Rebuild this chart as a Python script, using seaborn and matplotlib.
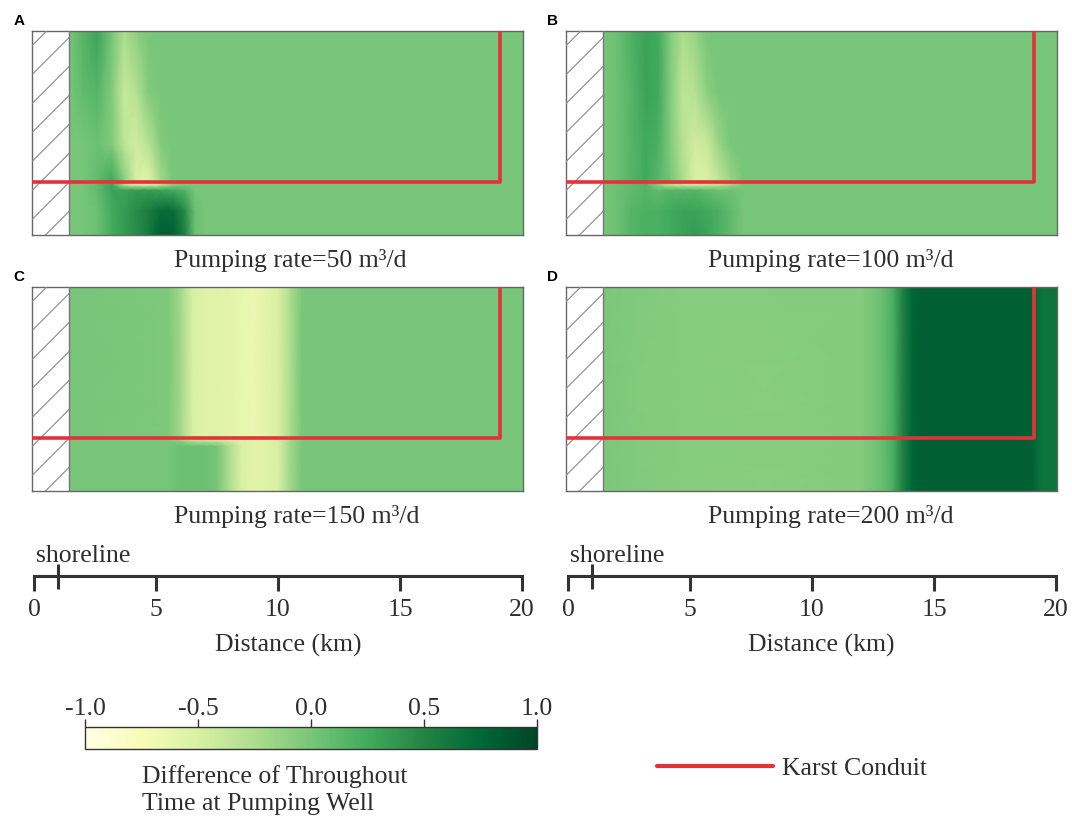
import matplotlib
matplotlib.use('Agg')
import numpy as np
import matplotlib.pyplot as plt
import seaborn as sns
from matplotlib.patches import Rectangle
from matplotlib.lines import Line2D

# ---------------------------------------------------------------
# data (distance in km, depth as 0..1 of panel)
# ---------------------------------------------------------------

# Panel A - pumping rate 50 m3/d
A_X = [1.45, 2.0, 2.6, 3.2, 3.7, 4.2, 4.7, 5.2, 5.7, 6.2, 6.6, 7.0, 20.04]
A_Y = [0.0, 0.12, 0.22, 0.245, 0.275, 0.45, 0.7, 1.0]
A_Z = [
    [0.0, 0.0, 0.05, 0.25, 0.35, 0.45, 0.6, 0.8, 0.8, 0.5, 0.05, 0.0, 0.0],
    [0.0, 0.0, 0.05, 0.25, 0.35, 0.45, 0.55, 0.7, 0.7, 0.45, 0.05, 0.0, 0.0],
    [0.0, 0.0, 0.1, 0.3, 0.3, 0.35, 0.35, 0.3, 0.25, 0.15, 0.0, 0.0, 0.0],
    [0.0, 0.0, 0.1, 0.3, -0.25, -0.45, -0.45, -0.3, -0.05, 0.0, 0.0, 0.0, 0.0],
    [0.0, 0.0, 0.1, 0.25, -0.1, -0.5, -0.55, -0.2, 0.0, 0.0, 0.0, 0.0, 0.0],
    [0.0, 0.0, 0.05, -0.05, -0.35, -0.45, -0.3, -0.05, 0.0, 0.0, 0.0, 0.0, 0.0],
    [0.0, 0.1, 0.15, -0.05, -0.4, -0.3, -0.05, 0.0, 0.0, 0.0, 0.0, 0.0, 0.0],
    [0.0, 0.15, 0.3, 0.0, -0.25, -0.1, 0.0, 0.0, 0.0, 0.0, 0.0, 0.0, 0.0],
]

# Panel B - pumping rate 100 m3/d
B_X = [1.45, 2.0, 2.6, 3.2, 3.7, 4.2, 4.7, 5.2, 5.7, 6.2, 6.7, 7.2, 7.7, 20.04]
B_Y = [0.0, 0.12, 0.22, 0.245, 0.275, 0.45, 0.7, 1.0]
B_Z = [
    [0.0, 0.05, 0.15, 0.2, 0.2, 0.25, 0.3, 0.35, 0.3, 0.2, 0.1, 0.0, 0.0, 0.0],
    [0.0, 0.05, 0.15, 0.2, 0.2, 0.25, 0.3, 0.3, 0.25, 0.2, 0.1, 0.0, 0.0, 0.0],
    [0.0, 0.05, 0.1, 0.15, 0.1, 0.15, 0.15, 0.15, 0.1, 0.05, 0.05, 0.0, 0.0, 0.0],
    [0.0, 0.05, 0.1, 0.15, -0.1, -0.3, -0.35, -0.4, -0.35, -0.3, -0.15, 0.0, 0.0, 0.0],
    [0.0, 0.05, 0.15, 0.25, 0.15, 0.0, -0.25, -0.5, -0.5, -0.35, -0.15, 0.0, 0.0, 0.0],
    [0.0, 0.05, 0.15, 0.25, 0.2, -0.05, -0.3, -0.45, -0.4, -0.15, 0.0, 0.0, 0.0, 0.0],
    [0.0, 0.05, 0.15, 0.3, 0.25, -0.05, -0.35, -0.3, -0.1, 0.0, 0.0, 0.0, 0.0, 0.0],
    [0.0, 0.05, 0.2, 0.3, 0.25, -0.05, -0.25, -0.15, 0.0, 0.0, 0.0, 0.0, 0.0, 0.0],
]

# Panel C - pumping rate 150 m3/d
C_X = [1.45, 5.5, 6.0, 6.5, 7.0, 7.5, 8.0, 8.5, 9.0, 9.5, 10.0, 10.5, 11.0, 20.04]
C_Y = [0.0, 0.22, 0.245, 0.275, 1.0]
C_Z = [
    [0.0, 0.0, 0.05, 0.05, 0.05, 0.0, -0.25, -0.5, -0.58, -0.55, -0.5, -0.2, 0.0, 0.0],
    [0.0, 0.0, 0.05, 0.05, 0.05, 0.0, -0.25, -0.5, -0.58, -0.55, -0.5, -0.2, 0.0, 0.0],
    [0.0, 0.0, -0.08, -0.25, -0.3, -0.35, -0.45, -0.55, -0.58, -0.55, -0.5, -0.2, 0.0, 0.0],
    [0.0, -0.03, -0.2, -0.5, -0.55, -0.55, -0.58, -0.62, -0.65, -0.58, -0.5, -0.25, 0.0, 0.0],
    [0.0, -0.03, -0.2, -0.5, -0.55, -0.55, -0.58, -0.62, -0.65, -0.58, -0.5, -0.25, 0.0, 0.0],
]

# Panel D - pumping rate 200 m3/d
D_X = [1.45, 3.0, 4.5, 8.0, 12.0, 12.8, 13.3, 13.7, 14.1, 14.5, 19.0, 19.4, 20.04]
D_Y = [0.0, 0.5, 1.0]
D_Z = [
    [-0.02, -0.04, -0.07, -0.08, -0.06, 0.05, 0.2, 0.5, 0.75, 0.8, 0.8, 0.65, 0.65],
    [-0.02, -0.05, -0.07, -0.08, -0.06, 0.05, 0.2, 0.5, 0.75, 0.8, 0.8, 0.65, 0.65],
    [-0.02, -0.04, -0.07, -0.07, -0.06, 0.05, 0.2, 0.5, 0.75, 0.8, 0.8, 0.65, 0.65],
]

RATES = ['50', '100', '150', '200']
LETTERS = ['A', 'B', 'C', 'D']

# karst conduit path
CONDUIT_X = [-0.08, 19.1, 19.1]
CONDUIT_Y = [0.26, 0.26, 1.0]

SCALE_TICKS = [0, 5, 10, 15, 20]
SHORELINE_KM = 1
CBAR_TICKS = [-1.0, -0.5, 0.0, 0.5, 1.0]

# ---------------------------------------------------------------
W, H = 1072, 820
X_MIN, X_MAX = -0.08, 20.04
STRIP_END = 1.45
RED = '#e5323a'
TXT = '#2e2e2e'
FS = 18.5

sns.set_theme(style='white')
plt.rcParams['font.family'] = ['Liberation Serif', 'DejaVu Serif']
plt.rcParams['text.color'] = TXT
plt.rcParams['axes.unicode_minus'] = False

cmap = sns.color_palette('YlGn', as_cmap=True)


def fx(px):
    return px / W


def fy(py):
    return 1 - py / H


def draw_panel(ax, xs, ys, zs):
    X, Y = np.meshgrid(xs, ys)
    mesh = ax.pcolormesh(X, Y, np.array(zs), shading='gouraud',
                         cmap=cmap, vmin=-1, vmax=1)

    # hatched zone left of the shoreline
    ax.add_patch(Rectangle((X_MIN, 0), STRIP_END - X_MIN, 1,
                           facecolor='white', edgecolor='none', zorder=2))
    slope = (491.0 / (X_MAX - X_MIN)) / 204.0
    for y0 in np.arange(-0.35, 1.0, 0.142):
        ax.plot([X_MIN, STRIP_END], [y0, y0 + (STRIP_END - X_MIN) * slope],
                color='#8a8a8a', lw=0.8, zorder=3)
    ax.axvline(STRIP_END, color='#777777', lw=1, zorder=3)

    sns.lineplot(x=CONDUIT_X, y=CONDUIT_Y, sort=False, estimator=None,
                 color=RED, lw=2.6, ax=ax, zorder=4)

    ax.set_xlim(X_MIN, X_MAX)
    ax.set_ylim(0, 1)
    ax.set_xticks([])
    ax.set_yticks([])
    ax.set_xlabel('')
    ax.set_ylabel('')
    for s in ax.spines.values():
        s.set_color('#666666')
        s.set_linewidth(1)
    return mesh


def draw_scale(fig, left_px):
    ax = fig.add_axes([fx(left_px), fy(577), 491 / W, 0.0005])
    ax.set_facecolor('none')
    ax.set_xlim(X_MIN, X_MAX)
    ax.set_ylim(0, 1)
    for side in ['top', 'left', 'right']:
        ax.spines[side].set_visible(False)
    ax.spines['bottom'].set_bounds(0, 20)
    ax.spines['bottom'].set_linewidth(2.2)
    ax.spines['bottom'].set_color('#333333')
    ax.set_xticks(SCALE_TICKS)
    ax.set_xticklabels([str(t) for t in SCALE_TICKS])
    ax.set_xticks([SHORELINE_KM], minor=True)
    ax.set_yticks([])
    ax.tick_params(axis='x', which='major', direction='out', length=11,
                   width=2.2, color='#333333', labelsize=FS, pad=5,
                   labelcolor=TXT, bottom=True)
    ax.tick_params(axis='x', which='minor', direction='inout', length=18,
                   width=2.2, color='#333333', bottom=True)


fig = plt.figure(figsize=(W / 100, H / 100), dpi=100)
fig.patch.set_facecolor('white')

panel_data = [(A_X, A_Y, A_Z), (B_X, B_Y, B_Z), (C_X, C_Y, C_Z), (D_X, D_Y, D_Z)]
lefts = [32, 566, 32, 566]
tops = [32, 32, 288, 288]

mesh = None
for i, (xs, ys, zs) in enumerate(panel_data):
    ax = fig.add_axes([fx(lefts[i]), fy(tops[i] + 204), 491 / W, 204 / H])
    mesh = draw_panel(ax, xs, ys, zs)
    fig.text(fx(lefts[i] - 13), fy(tops[i] - 11), LETTERS[i], ha='center',
             va='center', fontsize=11, fontweight='bold',
             family='Liberation Sans', color='black')
    fig.text(fx(lefts[i] + 142), fy(tops[i] + 229),
             f'Pumping rate={RATES[i]} m\u00b3/d', ha='left', va='center',
             fontsize=FS)

# distance scale bars
for left_px, label_px in [(32, 288), (566, 821)]:
    draw_scale(fig, left_px)
    fig.text(fx(left_px + 4), fy(556), 'shoreline', ha='left', va='center',
             fontsize=FS)
    fig.text(fx(label_px), fy(645), 'Distance (km)', ha='center',
             va='center', fontsize=FS)

# colour bar
cax = fig.add_axes([fx(85), fy(750), 452 / W, 22 / H])
cb = fig.colorbar(mesh, cax=cax, orientation='horizontal')
cax.xaxis.set_ticks_position('top')
cb.set_ticks(CBAR_TICKS)
cb.set_ticklabels([f'{t:.1f}' for t in CBAR_TICKS])
cax.tick_params(direction='out', length=6, width=1, labelsize=FS, pad=0,
                color='#333333', labelcolor=TXT)
cb.outline.set_linewidth(1)
cb.outline.set_edgecolor('#333333')
fig.text(fx(142), fy(790), 'Difference of Throughout\nTime at Pumping Well',
         ha='left', va='center', fontsize=FS, linespacing=1.3)

# legend
handle = Line2D([], [], color=RED, lw=3)
fig.legend(handles=[handle], labels=['Karst Conduit'], loc='center left',
           bbox_to_anchor=(fx(657), fy(769)), frameon=False, borderpad=0,
           borderaxespad=0, handlelength=4.5, handletextpad=0.35, fontsize=FS)

fig.savefig('out.png', dpi=100)
